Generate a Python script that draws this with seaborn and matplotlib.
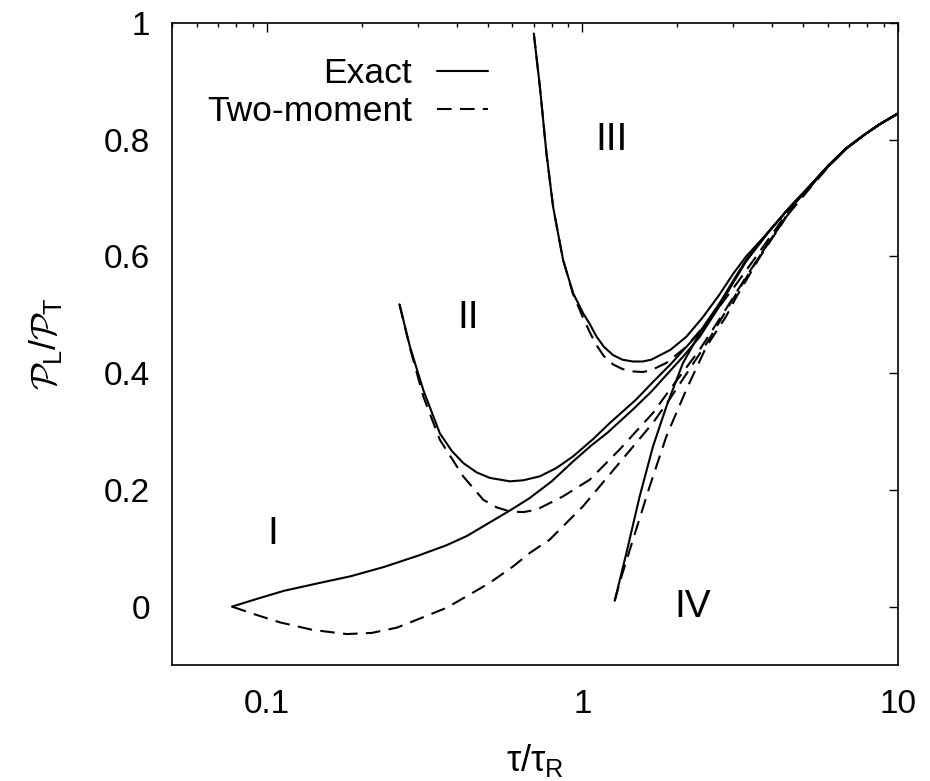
import matplotlib
matplotlib.use("Agg")
import matplotlib.pyplot as plt
import seaborn as sns
import pandas as pd
from matplotlib.ticker import FixedLocator, FuncFormatter, NullFormatter, LogLocator
from matplotlib.lines import Line2D

# ---------------- data ----------------
tail_x = [3.9, 4.5, 5.24, 6.0, 6.84, 7.8, 8.72, 10.0]
tail_y = [0.643, 0.682, 0.720, 0.755, 0.785, 0.808, 0.826, 0.845]

exact_I_x = [0.0775, 0.09, 0.113, 0.145, 0.184, 0.235, 0.30, 0.37, 0.43, 0.50, 0.59, 0.68,
             0.80, 0.93, 1.06, 1.20, 1.446, 1.65, 1.845, 2.08, 2.35, 2.72, 3.0, 3.3] + tail_x
exact_I_y = [0.000, 0.011, 0.027, 0.040, 0.052, 0.068, 0.087, 0.105, 0.121, 0.142, 0.165, 0.186,
             0.215, 0.248, 0.275, 0.298, 0.338, 0.368, 0.397, 0.428, 0.462, 0.515, 0.555, 0.592] + tail_y

exact_II_x = [0.263, 0.284, 0.313, 0.353, 0.385, 0.419, 0.462, 0.509, 0.589, 0.649, 0.733, 0.827, 0.934,
              1.08, 1.22, 1.48, 1.673, 1.90, 2.35, 2.72, 3.0, 3.3] + tail_x
exact_II_y = [0.518, 0.445, 0.371, 0.297, 0.267, 0.246, 0.230, 0.2205, 0.2147, 0.2165, 0.2233, 0.2376, 0.2575,
              0.287, 0.3145, 0.355, 0.385, 0.415, 0.470, 0.520, 0.558, 0.594] + tail_y

exact_III_x = [0.701, 0.733, 0.769, 0.807, 0.837, 0.868, 0.934, 1.004, 1.055, 1.107, 1.17, 1.25, 1.34,
               1.446, 1.55, 1.65, 1.90, 2.13, 2.40, 2.72, 3.0, 3.3] + tail_x
exact_III_y = [0.982, 0.890, 0.776, 0.685, 0.639, 0.594, 0.537, 0.503, 0.484, 0.463, 0.445, 0.431, 0.423,
               0.420, 0.420, 0.423, 0.440, 0.462, 0.495, 0.535, 0.570, 0.600] + tail_y

exact_IV_x = [1.265, 1.378, 1.518, 1.673, 1.845, 2.08, 2.35, 2.72, 3.0, 3.3] + tail_x
exact_IV_y = [0.010, 0.092, 0.189, 0.2745, 0.343, 0.417, 0.468, 0.518, 0.555, 0.592] + tail_y

two_I_x = [0.0775, 0.09, 0.110, 0.140, 0.179, 0.215, 0.258, 0.30, 0.371, 0.43, 0.509, 0.603, 0.681,
           0.788, 1.004, 1.28, 1.673, 1.887, 2.13, 2.5, 3.0, 3.64, 4.21, 4.75, 5.24, 6.0, 6.84, 7.8, 8.72, 10.0]
two_I_y = [0.000, -0.012, -0.027, -0.040, -0.047, -0.045, -0.036, -0.022, -0.002, 0.018, 0.041, 0.069, 0.092,
           0.115, 0.172, 0.240, 0.315, 0.355, 0.398, 0.455, 0.527, 0.600, 0.652, 0.694, 0.718, 0.754, 0.784, 0.808, 0.826, 0.845]

two_II_x = [0.263, 0.284, 0.313, 0.353, 0.419, 0.485, 0.535, 0.589, 0.650, 0.715, 0.868, 1.055, 1.31, 1.673, 1.887,
            2.35, 2.85, 3.3, 3.9, 4.5, 5.24, 6.0, 6.84, 7.8, 8.72, 10.0]
two_II_y = [0.518, 0.443, 0.360, 0.286, 0.223, 0.183, 0.170, 0.163, 0.162, 0.166, 0.189, 0.2176, 0.269, 0.332, 0.371,
            0.440, 0.510, 0.565, 0.625, 0.673, 0.716, 0.753, 0.784, 0.808, 0.826, 0.845]

two_III_x = [0.701, 0.733, 0.769, 0.807, 0.837, 0.868, 0.934, 1.004, 1.055, 1.107, 1.17, 1.25, 1.34, 1.446,
             1.55, 1.65, 1.85, 2.13, 2.52, 3.0, 3.5, 4.21, 4.75, 5.24, 6.0, 6.84, 7.8, 8.72, 10.0]
two_III_y = [0.982, 0.890, 0.776, 0.685, 0.639, 0.594, 0.535, 0.495, 0.470, 0.448, 0.429, 0.415, 0.407, 0.403,
             0.402, 0.405, 0.418, 0.445, 0.491, 0.545, 0.595, 0.656, 0.696, 0.719, 0.755, 0.785, 0.808, 0.826, 0.845]

two_IV_x = [1.265, 1.33, 1.446, 1.633, 1.845, 2.13, 2.47, 2.85, 3.07, 3.64, 4.21, 4.75, 5.24,
            6.0, 6.84, 7.8, 8.72, 10.0]
two_IV_y = [0.010, 0.052, 0.115, 0.206, 0.292, 0.371, 0.4455, 0.497, 0.530, 0.598, 0.650, 0.693, 0.718,
            0.754, 0.784, 0.808, 0.826, 0.845]

region_labels = ["I", "II", "III", "IV"]
region_x = [0.104, 0.434, 1.238, 2.234]
region_y = [0.124, 0.495, 0.799, 0.0]

legend_labels = ["Exact", "Two-moment"]
x_ticks = [0.1, 1, 10]
y_ticks = [0, 0.2, 0.4, 0.6, 0.8, 1.0]

# ---------------- style ----------------
sns.set_style("white")
plt.rcParams["font.family"] = ["Liberation Sans", "DejaVu Sans"]
plt.rcParams["mathtext.fontset"] = "custom"
plt.rcParams["mathtext.rm"] = "Liberation Sans"
plt.rcParams["mathtext.it"] = "Liberation Sans:italic"
plt.rcParams["mathtext.cal"] = "cmsy10"
for key in ["text.color", "axes.labelcolor", "xtick.color", "ytick.color", "axes.edgecolor"]:
    plt.rcParams[key] = "black"

fig = plt.figure(figsize=(9.30, 7.81), dpi=100)
ax = fig.add_axes([172 / 930, 1 - 665 / 781, (898 - 172) / 930, (665 - 23) / 781])

DASH = (0, (7, 4))
LW = 1.5

curves = [
    (exact_I_x, exact_I_y, "-"), (exact_II_x, exact_II_y, "-"),
    (exact_III_x, exact_III_y, "-"), (exact_IV_x, exact_IV_y, "-"),
    (two_I_x, two_I_y, DASH), (two_II_x, two_II_y, DASH),
    (two_III_x, two_III_y, DASH), (two_IV_x, two_IV_y, DASH),
]
for cx, cy, ls in curves:
    df = pd.DataFrame({"x": cx, "y": cy})
    sns.lineplot(data=df, x="x", y="y", ax=ax, color="black", linewidth=LW,
                 linestyle=ls, sort=False, estimator=None, legend=False)

ax.set_xscale("log")
ax.set_xlim(0.05, 10)
ax.set_ylim(-0.1, 1.0)

ax.xaxis.set_major_locator(FixedLocator(x_ticks))
ax.xaxis.set_major_formatter(FuncFormatter(lambda v, _: f"{v:g}"))
ax.xaxis.set_minor_locator(LogLocator(base=10, subs=[2, 3, 4, 5, 6, 7, 8, 9]))
ax.xaxis.set_minor_formatter(NullFormatter())
ax.yaxis.set_major_locator(FixedLocator(y_ticks))
ax.yaxis.set_major_formatter(FuncFormatter(lambda v, _: f"{v:g}"))

ax.tick_params(axis="both", which="major", direction="in", length=6.5, width=1.0,
               top=True, right=True, labelsize=24, colors="black")
ax.tick_params(axis="both", which="minor", direction="in", length=3.2, width=1.0,
               top=True, right=True, colors="black")
ax.tick_params(axis="x", which="major", pad=17)
ax.tick_params(axis="y", which="major", pad=16)

for s in ax.spines.values():
    s.set_visible(True)
    s.set_linewidth(1.2)
    s.set_color("black")

ax.set_xlabel(r"τ/τ$_{\mathrm{R}}$", fontsize=26, color="black")
ax.set_ylabel(r"$\mathcal{P}_{\mathrm{L}}/\mathcal{P}_{\mathrm{T}}$", fontsize=26, color="black")
ax.xaxis.set_label_coords(0.5, (665 - 742) / 642)
ax.yaxis.set_label_coords((64 - 172) / 726, 0.5)

for lab, lx, ly in zip(region_labels, region_x, region_y):
    ax.text(lx, ly, lab, fontsize=28, ha="center", va="center", color="black")

handles = [Line2D([], [], color="black", lw=LW, linestyle="-"),
           Line2D([], [], color="black", lw=LW, linestyle=DASH)]
leg = ax.legend(handles, legend_labels, loc="upper right", frameon=False,
                bbox_to_anchor=(488 / 930, 1 - 57 / 781), bbox_transform=fig.transFigure,
                markerfirst=False, fontsize=25.5, handlelength=1.45, handletextpad=0.7,
                labelspacing=0.15, borderpad=0, borderaxespad=0, labelcolor="black")

fig.savefig("out.png", dpi=100)
